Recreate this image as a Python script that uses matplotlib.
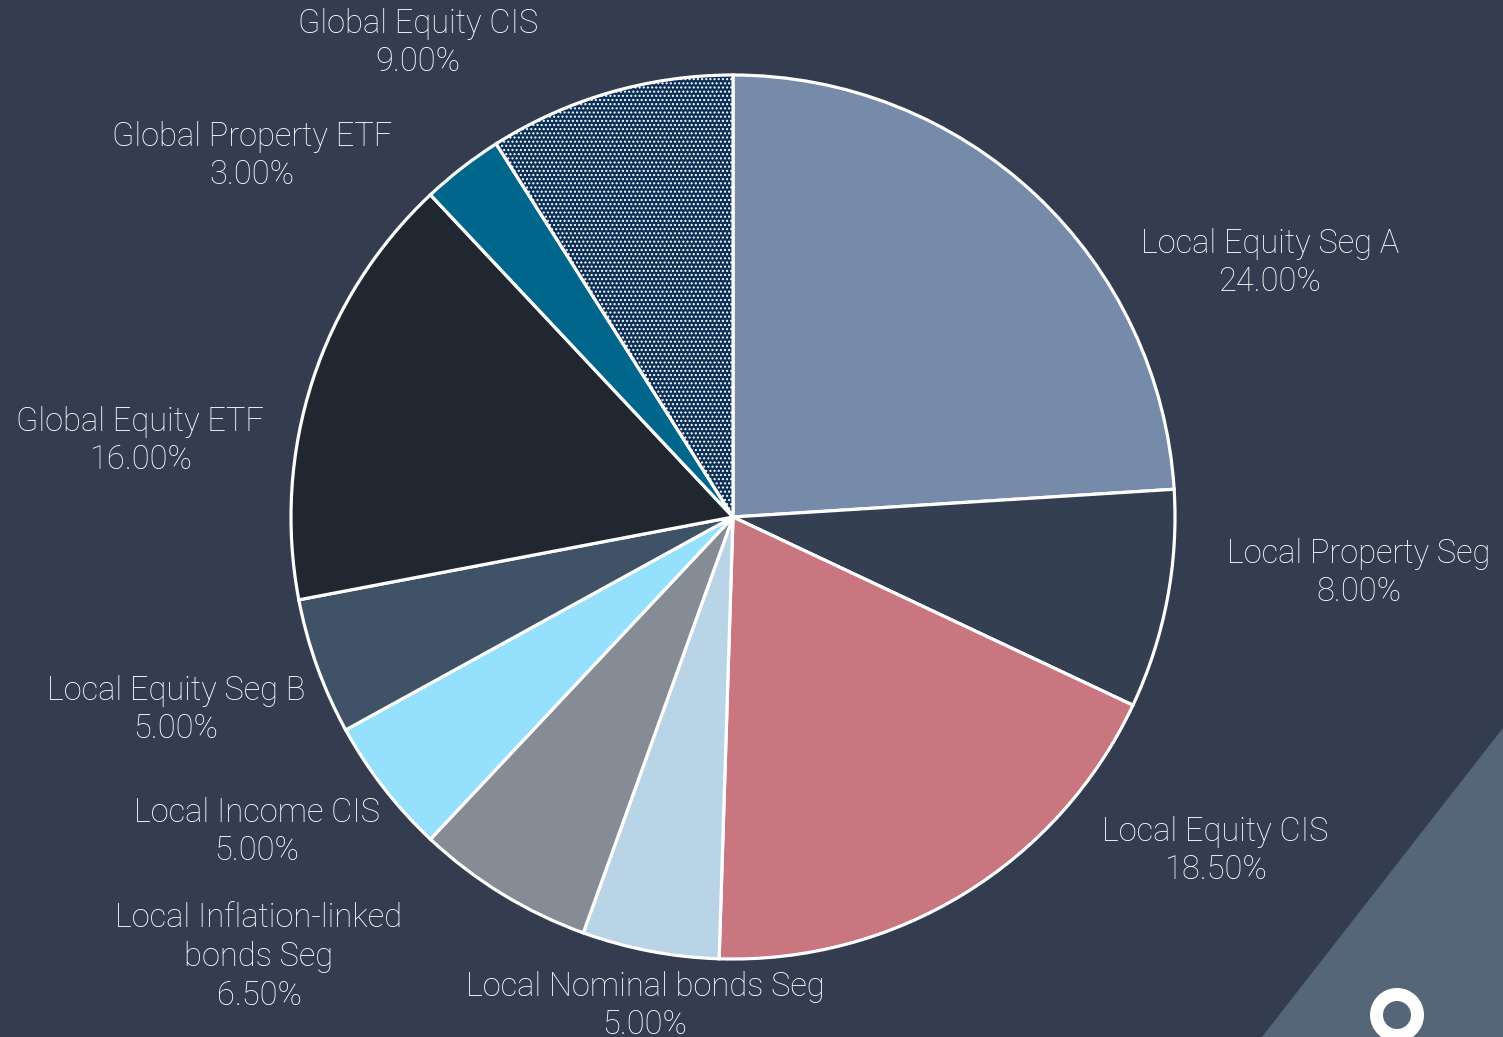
import matplotlib.pyplot as plt
from matplotlib.patches import Polygon, Wedge

# data
labels = ['Local Equity Seg A', 'Local Property Seg', 'Local Equity CIS',
          'Local Nominal bonds Seg', 'Local Inflation-linked\nbonds Seg',
          'Local Income CIS', 'Local Equity Seg B', 'Global Equity ETF',
          'Global Property ETF', 'Global Equity CIS']
shares = [24.0, 8.0, 18.5, 5.0, 6.5, 5.0, 5.0, 16.0, 3.0, 9.0]

colors = ['#768ba9', '#343f51', '#c97680', '#b8d4e6', '#868c96',
          '#94e0fd', '#405268', '#202731', '#00668c', '#0b2f57']

# label anchor points (pixels, y from top)
label_pos = [(1270, 263), (1359, 573), (1215, 851), (645, 1006), (259, 957),
             (257, 832), (176, 710), (140, 441), (252, 156), (418, 43)]

bg = '#333d4f'
W, H = 1503, 1037

plt.rcParams['font.family'] = ['Roboto', 'DejaVu Sans']
plt.rcParams['hatch.color'] = 'white'

fig = plt.figure(figsize=(W / 100, H / 100), dpi=100, facecolor=bg)
ax = fig.add_axes([0, 0, 1, 1])
ax.set_facecolor(bg)

# decoration bottom right
ax.add_patch(Polygon([(1262, 0), (W, H - 728), (W, 0)], closed=True,
                     facecolor='#566679', edgecolor='none', zorder=0))
ax.add_patch(Wedge((1397, H - 1015), 27, 0, 360, width=13,
                   facecolor='white', edgecolor='none', zorder=1))

wedges, _ = ax.pie(shares, colors=colors, startangle=90, counterclock=False,
                   center=(733, H - 517), radius=442, frame=True,
                   wedgeprops=dict(edgecolor='white', linewidth=2.3))
ax.set_xlim(0, W)
ax.set_ylim(0, H)
ax.set_aspect('equal')
ax.axis('off')

wedges[-1].set_hatch('....')

for name, val, (x, y) in zip(labels, shares, label_pos):
    ax.text(x, H - y, '%s\n%.2f%%' % (name, val), ha='center', va='center',
            color='white', fontsize=23.5, fontweight='light', linespacing=1.27)

fig.savefig('out.png', dpi=100, facecolor=bg)
